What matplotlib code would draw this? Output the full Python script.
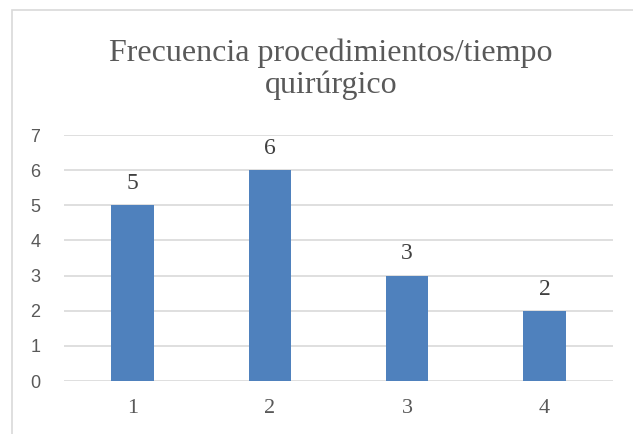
import matplotlib.pyplot as plt
from matplotlib.patches import Rectangle

categories = ["1", "2", "3", "4"]
values = [5, 6, 3, 2]
y_ticks = [0, 1, 2, 3, 4, 5, 6, 7]
title_lines = ["Frecuencia procedimientos/tiempo", "quirúrgico"]

W, H = 633, 434
fig = plt.figure(figsize=(W / 100, H / 100), dpi=100)
fig.patch.set_facecolor("white")

# chart border (cut off at right and bottom)
fig.patches.append(Rectangle((12 / W, -0.1), 1.2, 1 - 10 / H + 0.1,
                             transform=fig.transFigure, fill=False,
                             edgecolor="#d9d9d9", linewidth=1.2))

# plot area: x 64..613 px, y value 0 at 381 px, 7 at 135 px
ax = fig.add_axes([64 / W, 1 - 381 / H, (613 - 64) / W, (381 - 135) / H])
x = range(len(categories))
ax.bar(x, values, width=0.31, color="#4f81bd", zorder=3)
ax.set_xlim(-0.5, len(categories) - 0.5)
ax.set_ylim(0, 7)
ax.set_yticks(y_ticks)
ax.set_yticklabels([str(t) for t in y_ticks], family="Liberation Sans",
                   fontsize=13, color="#595959")
ax.set_xticks(list(x))
ax.set_xticklabels(categories, family="Liberation Serif", fontsize=16,
                   color="#595959")
ax.tick_params(axis="both", length=0)
ax.tick_params(axis="y", pad=17)
ax.tick_params(axis="x", pad=13)
ax.grid(axis="y", color="#d9d9d9", linewidth=1.2, zorder=0)
for s in ax.spines.values():
    s.set_visible(False)

for xi, v in zip(x, values):
    ax.annotate(str(v), (xi, v), xytext=(0, 8), textcoords="offset points",
                ha="center", va="bottom", family="Liberation Serif",
                fontsize=17, color="#404040")

# title, two centred lines
fig.text(331 / W, 1 - 61 / H, title_lines[0], ha="center", va="baseline",
         family="Liberation Serif", fontsize=23, color="#595959")
fig.text(331 / W, 1 - 93 / H, title_lines[1], ha="center", va="baseline",
         family="Liberation Serif", fontsize=23, color="#595959")

fig.savefig("out.png", dpi=100)
